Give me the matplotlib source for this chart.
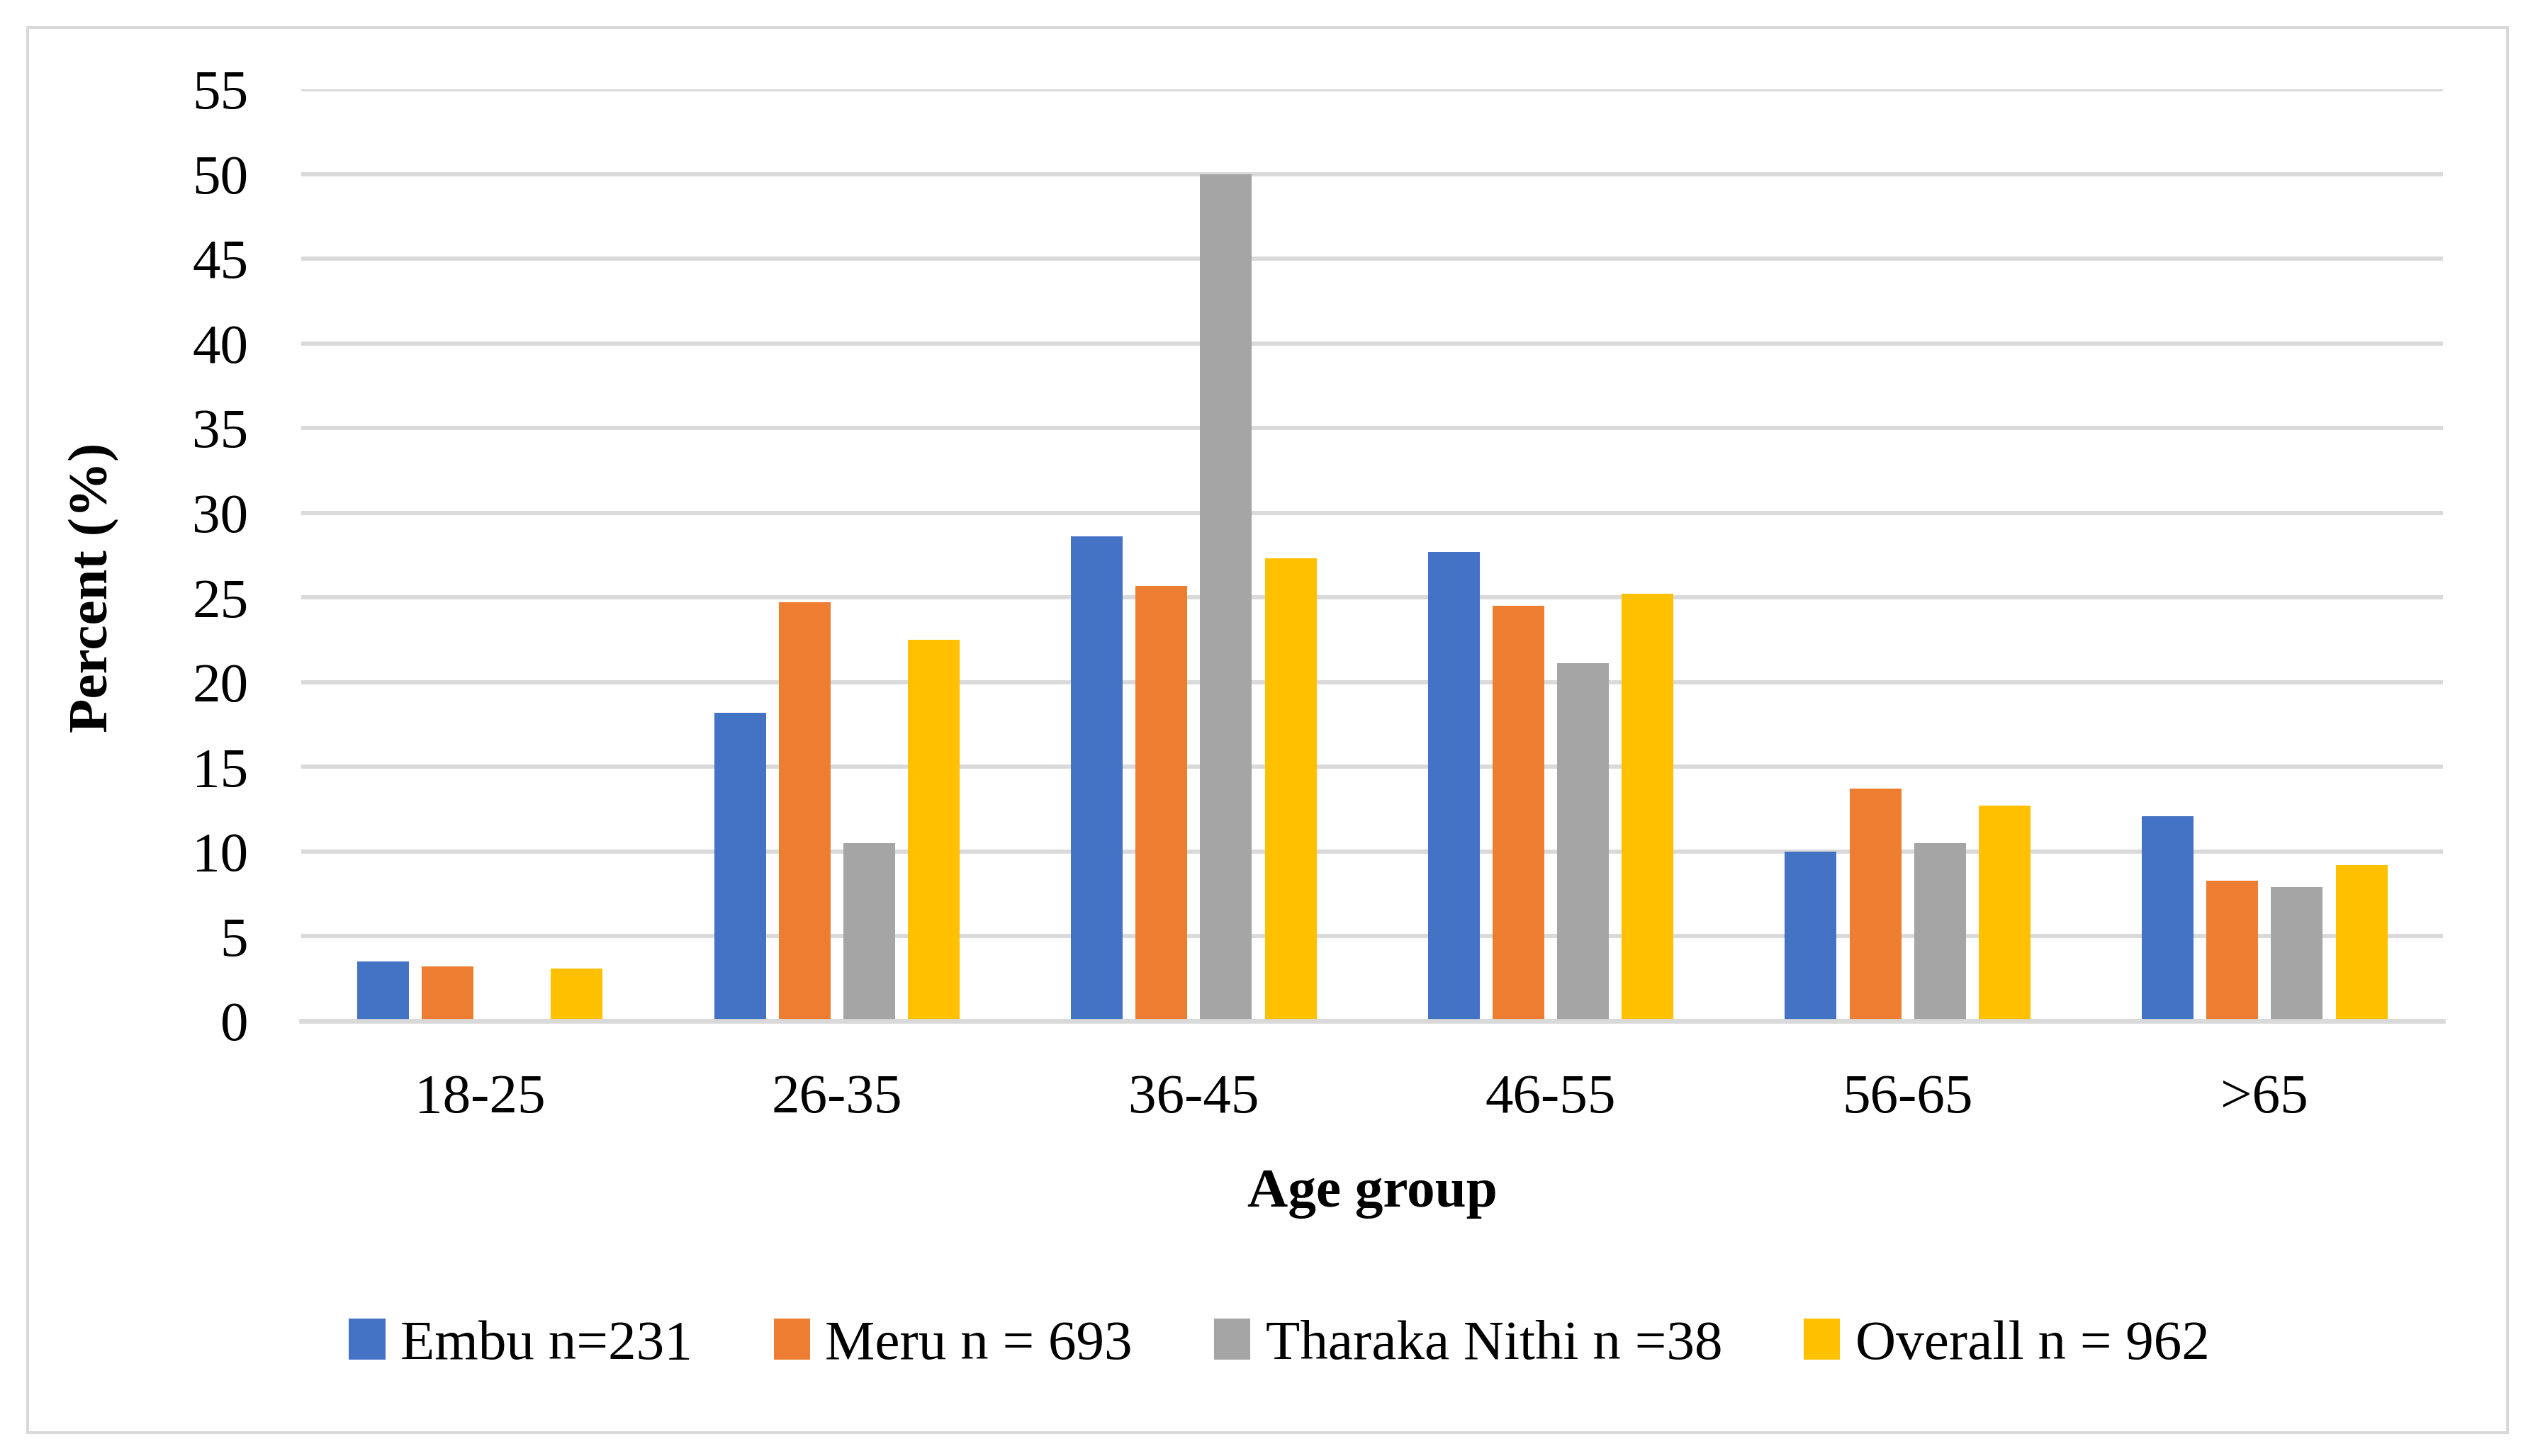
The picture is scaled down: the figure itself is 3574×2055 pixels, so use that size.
import numpy as np
import matplotlib.pyplot as plt
from matplotlib.patches import Rectangle

# set some parameters for plt
plt.rcParams["font.family"] = "Liberation Serif"
plt.rcParams["font.size"] = 19

age_groups = ["18-25", "26-35", "36-45", "46-55", "56-65", ">65"]
series_names = ["Embu n=231", "Meru n = 693", "Tharaka Nithi n =38", "Overall n = 962"]
embu = [3.5, 18.2, 28.6, 27.7, 10.0, 12.1]
meru = [3.2, 24.7, 25.7, 24.5, 13.7, 8.3]
tharaka = [0.0, 10.5, 50.0, 21.1, 10.5, 7.9]
overall = [3.1, 22.5, 27.3, 25.2, 12.7, 9.2]
colors = ["#4472C4", "#ED7D31", "#A5A5A5", "#FFC000"]

fig = plt.figure(figsize=(3574 / 300, 2055 / 300), dpi=300)
ax = fig.add_axes([0.119, 0.2988, 0.8455, 0.6399])

x = np.arange(len(age_groups))
step = 0.181
width = 0.145
for i, (vals, name) in enumerate(zip([embu, meru, tharaka, overall], series_names)):
    ax.bar(x + (i - 1.5) * step, vals, width, color=colors[i], label=name, zorder=3)

ax.set_xlim(-0.5, len(age_groups) - 0.5)
ax.set_ylim(0, 55)
ax.set_yticks(np.arange(0, 56, 5))
ax.set_xticks(x)
ax.set_xticklabels(age_groups)
ax.grid(True, axis="y", color="#D9D9D9", linewidth=1.4, zorder=0)
for side in ["top", "right", "left"]:
    ax.spines[side].set_visible(False)
ax.spines["bottom"].set_color("#D9D9D9")
ax.spines["bottom"].set_linewidth(1.6)
ax.spines["bottom"].set_zorder(4)
ax.tick_params(axis="both", length=0)
ax.tick_params(axis="x", pad=18)
ax.tick_params(axis="y", pad=18)

ax.set_ylabel("Percent (%)", fontweight="bold")
ax.yaxis.set_label_coords(-0.085, 0.465)
ax.set_xlabel("Age group", fontweight="bold")
ax.xaxis.set_label_coords(0.5, -0.158)

fig.legend(loc="center", bbox_to_anchor=(0.505, 0.0764), ncol=4, frameon=False,
           handlelength=0.65, handleheight=0.75, handletextpad=0.27, columnspacing=1.45)

# outer chart border
fig.patches.append(Rectangle((39 / 3574, 33 / 2055), 3499 / 3574, 1983 / 2055,
                             transform=fig.transFigure, fill=False,
                             edgecolor="#D9D9D9", linewidth=1.0))

plt.savefig("out.png")
